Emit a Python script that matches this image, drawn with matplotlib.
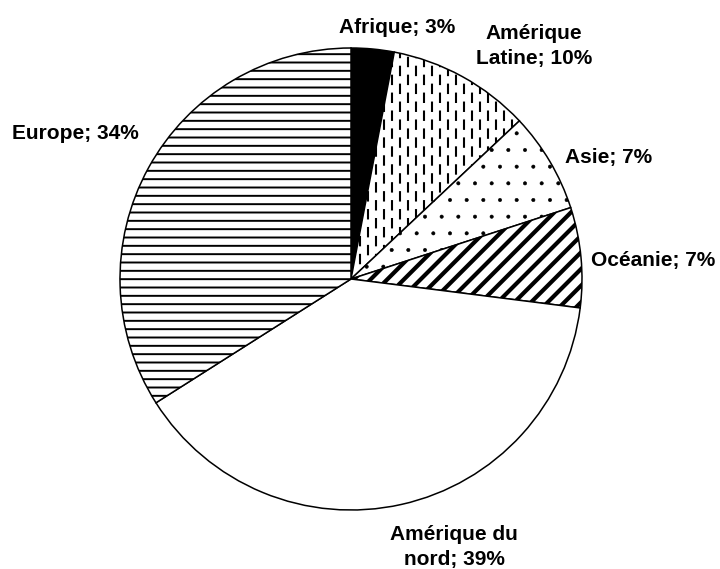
import numpy as np
import matplotlib.pyplot as plt

regions = ['Afrique', 'Amérique\nLatine', 'Asie', 'Océanie', 'Amérique du\nnord', 'Europe']
shares = [3, 10, 7, 7, 39, 34]
# label anchor, in pie radii from the centre
label_pos = [(0.20, 1.087), (0.792, 1.009), (1.113, 0.528), (1.307, 0.082),
             (0.446, -1.160), (-1.195, 0.632)]

plt.rcParams['font.family'] = ['Liberation Sans', 'DejaVu Sans']
plt.rcParams['hatch.linewidth'] = 1.4

fig = plt.figure(figsize=(7.2, 5.69), dpi=100)
ax = fig.add_axes([120 / 720, 59 / 569, 462 / 720, 462 / 569])

fills = ['black', 'white', 'white', 'white', 'white', 'white']
hatches = [None, None, '.', '//', None, '--']
hatch_lw = [None, None, 0.4, 3.0, None, 1.4]

wedges, _ = ax.pie(shares, startangle=90, counterclock=False, radius=1,
                   colors=fills,
                   wedgeprops=dict(edgecolor='black', linewidth=1.1))
for w, h, hl in zip(wedges, hatches, hatch_lw):
    if h:
        w.set_hatch(h)
        if hasattr(w, 'set_hatch_linewidth'):
            w.set_hatch_linewidth(hl)

# dashed vertical fill for Amérique Latine
xs = np.arange(-1, 1, 8 / 231)
for i, x in enumerate(xs):
    offset = 4.3 if i % 2 else 0
    ln, = ax.plot([x, x], [-1.1, 1.1], color='black', lw=1.5,
                  linestyle=(offset, (5, 3.6)), dash_capstyle='butt')
    ln.set_clip_path(wedges[1])

for lab, share, (px, py) in zip(regions, shares, label_pos):
    ax.text(px, py, f'{lab}; {share}%', ha='center', va='center',
            fontsize=15, fontweight='bold', linespacing=1.45)

ax.set_xlim(-1, 1)
ax.set_ylim(-1, 1)
ax.set_aspect('equal')
ax.axis('off')

fig.savefig('out.png', dpi=100)
